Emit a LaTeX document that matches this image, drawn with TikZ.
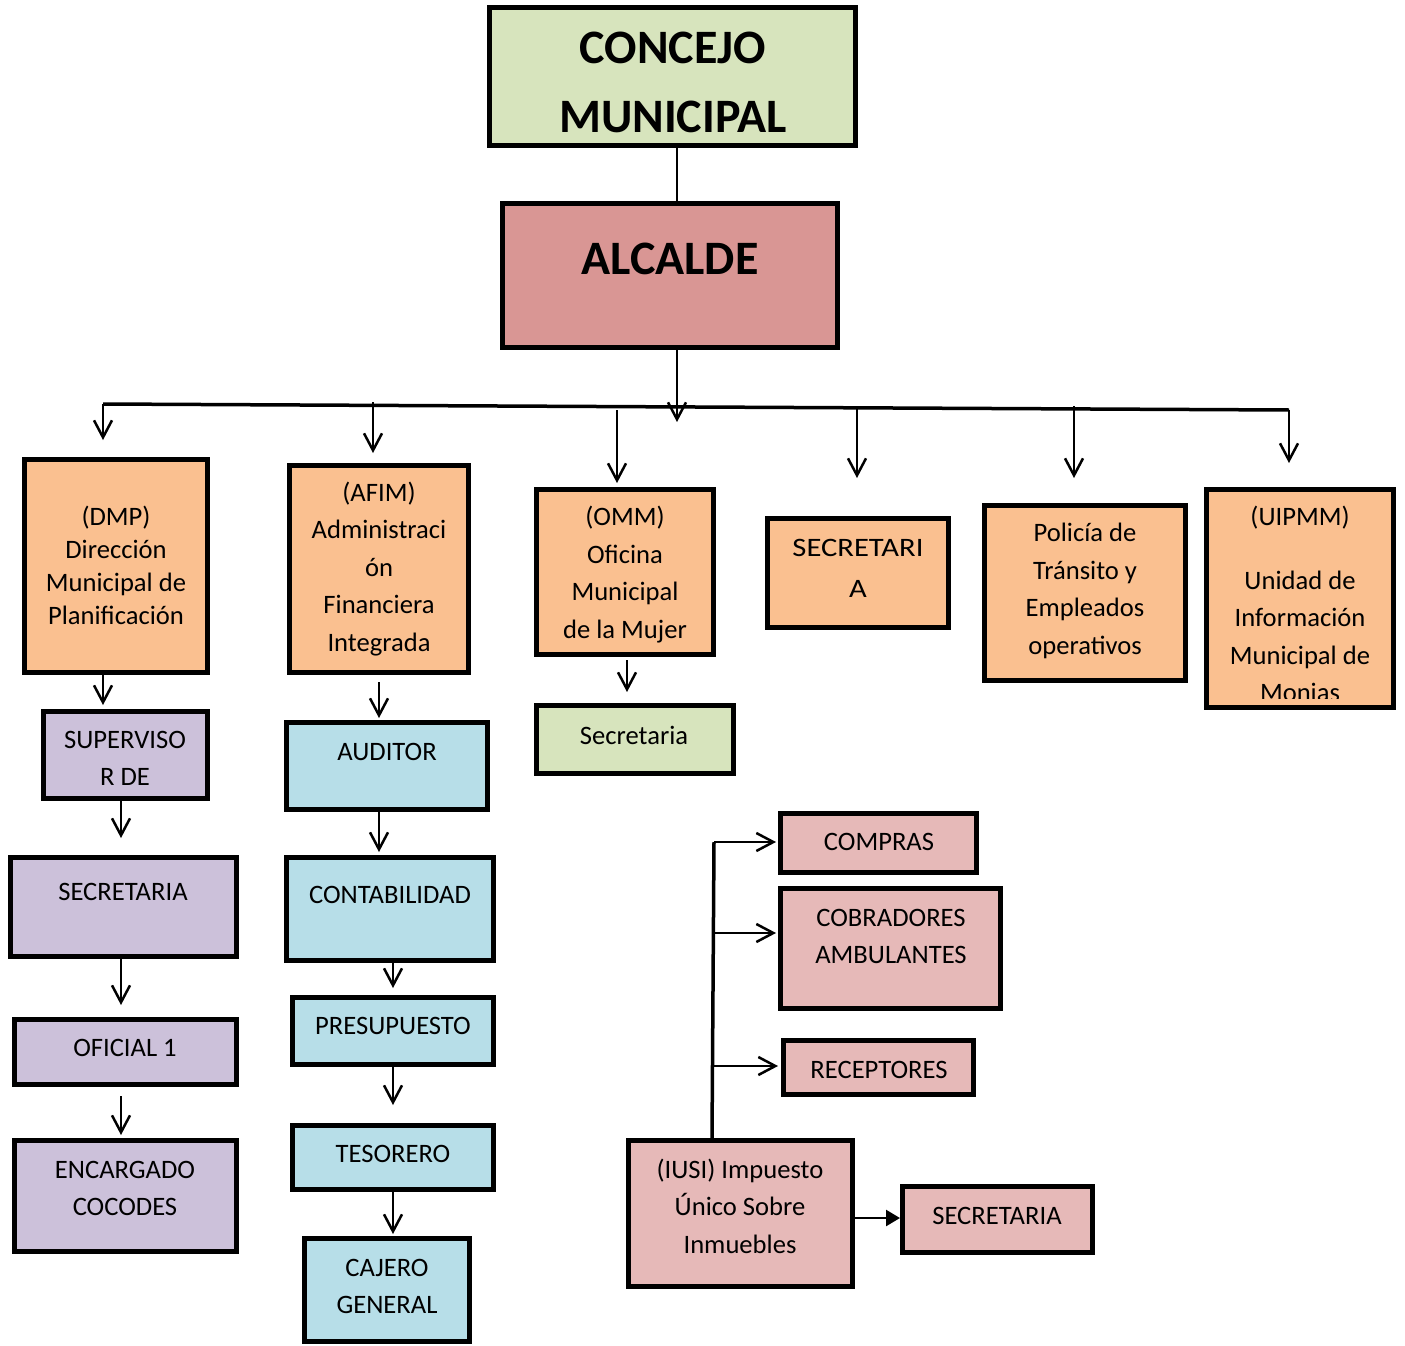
\documentclass[tikz,border=0pt]{standalone}
\usepackage{fontspec}
\setmainfont{Carlito}
\usetikzlibrary{arrows.meta,calc}
\definecolor{cgreen}{HTML}{D7E4BD}
\definecolor{cred}{HTML}{D99694}
\definecolor{corange}{HTML}{FAC090}
\definecolor{cpurple}{HTML}{CCC1DA}
\definecolor{cblue}{HTML}{B7DEE8}
\definecolor{cpink}{HTML}{E6B9B8}
\newcommand\orgbox[6]{%
  \pgfmathsetmacro\obw{#4-#2-5}%
  \pgfmathsetmacro\obh{#5-#3-5}%
  \pgfmathsetmacro\obx{(#2+#4)/2}%
  \pgfmathsetmacro\oby{(#3+#5)/2}%
  \node[orgbx, fill=#6, minimum width=\obw pt, minimum height=\obh pt] (#1) at (\obx,\oby) {};}
\tikzset{
  orgbx/.style={draw=black, line width=5pt, inner sep=0pt, rectangle},
  txt/.style={anchor=base, align=center, inner sep=0pt, text=black, font=\fontsize{26.6}{37.5}\selectfont},
  arr/.style={draw=black, line width=2.5pt, -{Straight Barb[length=17pt,width=18pt,line width=2.5pt]}},
  tri/.style={draw=black, line width=2.5pt, -{Triangle[length=14pt,width=16pt]}},
  plain/.style={draw=black, line width=2.5pt},
  bar/.style={draw=black, line width=3.5pt},
}
\begin{document}
\begin{tikzpicture}[x=1pt,y=-1pt]
\useasboundingbox (0,0) rectangle (1405,1346);
% boxes
\orgbox{concejo}{487}{5}{858}{148}{cgreen}
\orgbox{alc}{500}{201}{840}{350}{cred}
\orgbox{dmp}{22}{457}{210}{675}{corange}
\orgbox{afim}{287}{463}{471}{675}{corange}
\orgbox{omm}{534}{487}{716}{657}{corange}
\orgbox{seca}{765}{516}{951}{630}{corange}
\orgbox{pol}{982}{503}{1188}{683}{corange}
\orgbox{uip}{1204}{487}{1396}{710}{corange}
\orgbox{sup}{41}{709}{210}{801}{cpurple}
\orgbox{secp}{8}{855}{239}{959}{cpurple}
\orgbox{ofi}{12}{1017}{239}{1087}{cpurple}
\orgbox{enc}{12}{1138}{239}{1254}{cpurple}
\orgbox{aud}{284}{720}{490}{812}{cblue}
\orgbox{cont}{284}{855}{496}{963}{cblue}
\orgbox{pres}{290}{995}{496}{1067}{cblue}
\orgbox{tes}{290}{1123}{496}{1192}{cblue}
\orgbox{caj}{302}{1236}{472}{1344}{cblue}
\orgbox{secg}{534}{703}{736}{776}{cgreen}
\orgbox{comp}{778}{811}{979}{875}{cpink}
\orgbox{cob}{778}{886}{1003}{1011}{cpink}
\orgbox{rec}{781}{1038}{976}{1097}{cpink}
\orgbox{iusi}{626}{1138}{855}{1289}{cpink}
\orgbox{secr}{900}{1184}{1095}{1255}{cpink}
% texts (anchor = baseline of the last line)
\node[txt, font=\fontsize{48}{69}\bfseries\selectfont] (tconcejo) at (673,132) {CONCEJO\\MUNICIPAL};
\node[txt, font=\fontsize{48}{50}\bfseries\selectfont] (talc) at (670,274) {ALCALDE};
\node[txt, font=\fontsize{26.6}{33}\selectfont] (tdmp) at (116,624) {(DMP)\\Dirección\\Municipal de\\Planificación};
\node[txt] (tafim) at (379,651) {(AFIM)\\Administraci\\ón\\Financiera\\Integrada};
\node[txt] (tomm) at (625,638) {(OMM)\\Oficina\\Municipal\\de la Mujer};
\node[txt, xscale=1.15, font=\fontsize{26.6}{41}\selectfont] (tseca) at (858,597) {SECRETARI\\A};
\node[txt] (tpol) at (1085,654) {Policía de\\Tránsito y\\Empleados\\operativos};
\begin{scope}
\clip (1209,492) rectangle (1391,698);
\node[txt] (tuip) at (1300,701.5) {(UIPMM)\\[26.5pt]Unidad de\\Información\\Municipal de\\Monias};
\end{scope}
\node[txt] (tsup) at (125,785.5) {SUPERVISO\\R DE};
\node[txt] (tsecp) at (123,900) {SECRETARIA};
\node[txt] (tofi) at (125,1056) {OFICIAL 1};
\node[txt] (tenc) at (125,1215.5) {ENCARGADO\\COCODES};
\node[txt] (taud) at (387,760) {AUDITOR};
\node[txt] (tcont) at (390,903) {CONTABILIDAD};
\node[txt] (tpres) at (393,1034) {PRESUPUESTO};
\node[txt] (ttes) at (393,1162) {TESORERO};
\node[txt] (tcaj) at (387,1313.5) {CAJERO\\GENERAL};
\node[txt] (tsecg) at (634,744) {Secretaria};
\node[txt] (tcomp) at (879,850) {COMPRAS};
\node[txt] (tcob) at (891,963.5) {COBRADORES\\AMBULANTES};
\node[txt] (trec) at (879,1078) {RECEPTORES};
\node[txt] (tiusi) at (740,1253) {(IUSI) Impuesto\\Único Sobre\\Inmuebles};
\node[txt] (tsecr) at (997,1224) {SECRETARIA};
% top connectors
\draw[line width=2pt] (677,0 |- concejo.south) -- (677,0 |- alc.north);
\coordinate (barL) at (103,404);
\coordinate (barR) at (1289,410);
\draw[bar] (barL) -- (barR);
\coordinate (atip) at (677,422);
\draw[arr] (677,0 |- alc.south) -- (atip);
\coordinate (b2) at (373,402);
\coordinate (b3) at (617,410);
\coordinate (b4) at (857,408);
\coordinate (b5) at (1074,406);
\draw[arr, shorten >=17pt] (barL) -- (barL |- dmp.north);
\draw[arr, shorten >=10pt] (b2) -- (b2 |- afim.north);
\draw[arr, shorten >=4pt] (b3) -- (b3 |- omm.north);
\draw[arr, shorten >=38pt] (b4) -- (b4 |- seca.north);
\draw[arr, shorten >=25pt] (b5) -- (b5 |- pol.north);
\draw[arr, shorten >=24pt] (barR) -- (barR |- uip.north);
% DMP column
\draw[arr, shorten >=4pt] (103,0 |- dmp.south) -- (103,0 |- sup.north);
\draw[arr, shorten >=17pt] (121,0 |- sup.south) -- (121,0 |- secp.north);
\draw[arr, shorten >=12pt] (121,0 |- secp.south) -- (121,0 |- ofi.north);
\draw[arr, shorten <=9pt, shorten >=3pt] (121,0 |- ofi.south) -- (121,0 |- enc.north);
% AFIM column
\draw[arr, shorten <=7pt, shorten >=2pt] (379,0 |- afim.south) -- (379,0 |- aud.north);
\draw[arr, shorten >=3pt] (379,0 |- aud.south) -- (379,0 |- cont.north);
\draw[arr, shorten >=7pt] (393,0 |- cont.south) -- (393,0 |- pres.north);
\draw[arr, shorten >=18pt] (393,0 |- pres.south) -- (393,0 |- tes.north);
\draw[arr, shorten >=2pt] (393,0 |- tes.south) -- (393,0 |- caj.north);
% OMM
\draw[arr, shorten <=3pt, shorten >=11pt] (627,0 |- omm.south) -- (627,0 |- secg.north);
% IUSI
\coordinate (vtop) at (714,842);
\draw[line width=3.5pt] (712,0 |- iusi.north) -- (vtop);
\draw[arr, shorten >=2pt] (vtop) -- (comp.west |- vtop);
\draw[arr, shorten >=2pt] (714,933) -- (cob.west |- 714,933);
\draw[arr, shorten >=3pt] (714,1066) -- (rec.west |- 714,1066);
\draw[tri] (iusi.east |- 0,1218) -- (secr.west |- 0,1218);
\end{tikzpicture}
\end{document}
